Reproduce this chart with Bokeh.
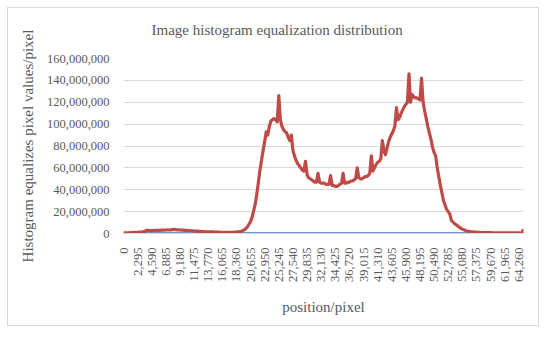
from math import pi
from bokeh.plotting import figure
from bokeh.models import Range1d, FixedTicker, NumeralTickFormatter, ColumnDataSource
from bokeh.embed import file_html
from bokeh.resources import INLINE

# x categories: pixel positions (step 255)
positions = list(range(0, 65026, 255))
# x tick labels shown on the axis
tick_positions = [0, 2295, 4590, 6885, 9180, 11475, 13770, 16065, 18360, 20655,
                  22950, 25245, 27540, 29835, 32130, 34425, 36720, 39015, 41310,
                  43605, 45900, 48195, 50490, 52785, 55080, 57375, 59670, 61965, 64260]
y_ticks = [0, 20e6, 40e6, 60e6, 80e6, 100e6, 120e6, 140e6, 160e6]
chart_title = "Image histogram equalization distribution"

# equalized histogram values (millions of pixels)
equalized_millions = [
    0.5, 0.6, 0.6, 0.7, 0.8, 0.8, 0.9, 1.0, 1.0, 1.1, 1.2, 1.3, 1.5, 1.8, 2.2,
    3.0, 2.8, 2.7, 2.6, 2.7, 2.8, 2.9, 2.8, 2.9, 3.0, 3.1, 3.0, 3.2, 3.3, 3.2, 3.4, 3.5,
    3.8, 3.6, 3.4, 3.3, 3.2, 3.1, 3.0, 2.9, 2.8, 2.7, 2.6,
    2.5, 2.4, 2.3, 2.2, 2.1, 2.0, 1.9, 1.8, 1.7, 1.6, 1.6, 1.5, 1.5, 1.4, 1.4, 1.3, 1.3, 1.2,
    1.2, 1.1, 1.1, 1.1, 1.0, 1.0, 1.0, 1.0, 1.1, 1.1, 1.2, 1.3, 1.5, 1.7,
    2.0, 2.6, 3.4, 4.5, 6.0, 8.5, 11, 15, 21, 27, 36, 47, 58, 67, 76, 84,
    93, 90, 98, 103, 104, 105, 104, 102, 126, 104, 98, 95, 93, 92, 88, 85, 90, 76, 71, 67,
    64, 62, 60, 58, 57, 66, 54, 51, 50, 49, 48, 47, 47, 55, 47, 46, 46, 46, 45, 45,
    45, 53, 44, 44, 43, 43, 44, 45, 46, 55, 46, 46, 47, 47, 48, 48, 49, 50, 60, 51,
    50, 50, 51, 52, 52, 53, 55, 71, 57, 60, 63, 65, 66, 68, 85, 76, 72, 78, 84, 88,
    91, 94, 98, 115, 104, 106, 110, 113, 116, 118, 120, 146, 120, 127, 125, 124, 124, 123, 122, 142,
    120, 112, 105, 98, 92, 86, 79, 74, 71, 60, 52, 44, 37, 30, 26, 22, 20, 18, 12, 10.5,
    9, 8, 7, 5.8, 4.8, 4.0, 3.4, 2.8, 2.3, 2.0, 1.8, 1.6, 1.4, 1.3, 1.2, 1.1, 1.0,
    0.9, 0.9, 0.9, 0.8, 0.8, 0.8, 0.8, 0.7, 0.7, 0.7, 0.7, 0.7, 0.6, 0.6, 0.6, 0.6, 0.6, 0.6,
    0.5, 0.5, 0.5, 0.5, 0.5, 0.5, 0.5, 0.5, 0.5,
    4.0,
]
# original (flat) series
original_values = [0] * len(positions)

n = min(len(positions), len(equalized_millions))
src = ColumnDataSource(dict(
    x=positions[:n],
    eq=[v * 1e6 for v in equalized_millions[:n]],
    orig=original_values[:n],
))

FONT = "Liberation Serif"
GRAY = "#595959"

p = figure(width=532, height=319, output_backend="svg", toolbar_location=None,
           x_range=Range1d(0, positions[n - 1]), y_range=Range1d(0, 160e6),
           title=chart_title + "\n",
           min_border_left=115, min_border_right=17, min_border_top=50, min_border_bottom=94,
           styles={"border": "1px solid #d9d9d9", "margin": "7px"})

p.line("x", "orig", source=src, line_color="#4472c4", line_width=2.5)
p.line("x", "eq", source=src, line_color="#be4b48", line_width=3.2, line_join="round")

p.title.text_font = FONT
p.title.text_font_size = "15px"
p.title.text_font_style = "normal"
p.title.text_color = GRAY
p.title.align = "left"
p.title.offset = 28
p.title.vertical_align = "top"
p.title.standoff = 6

p.outline_line_color = None
p.xgrid.grid_line_color = None
p.ygrid.grid_line_color = "#d9d9d9"
p.ygrid.grid_line_width = 1

p.xaxis.ticker = FixedTicker(ticks=tick_positions)
p.xaxis.formatter = NumeralTickFormatter(format="0,0")
p.xaxis.major_label_orientation = pi / 2
p.xaxis.axis_line_color = "#d9d9d9"
p.xaxis.major_tick_line_color = None
p.xaxis.minor_tick_line_color = None
p.xaxis.major_label_standoff = 8
p.xaxis.axis_label = "position/pixel"
p.xaxis.axis_label_standoff = 14

p.yaxis.ticker = FixedTicker(ticks=y_ticks)
p.yaxis.formatter = NumeralTickFormatter(format="0,0")
p.yaxis.axis_line_color = None
p.yaxis.major_tick_line_color = None
p.yaxis.minor_tick_line_color = None
p.yaxis.major_label_standoff = 8
p.yaxis.axis_label = "Histogram equalizes pixel values/pixel"
p.yaxis.axis_label_standoff = 8

for ax in (p.xaxis, p.yaxis):
    ax.major_label_text_font = FONT
    ax.major_label_text_font_size = "12.5px"
    ax.major_label_text_color = GRAY
    ax.axis_label_text_font = FONT
    ax.axis_label_text_font_size = "15px"
    ax.axis_label_text_font_style = "normal"
    ax.axis_label_text_color = GRAY

open("out.html", "w").write(file_html(p, INLINE))
